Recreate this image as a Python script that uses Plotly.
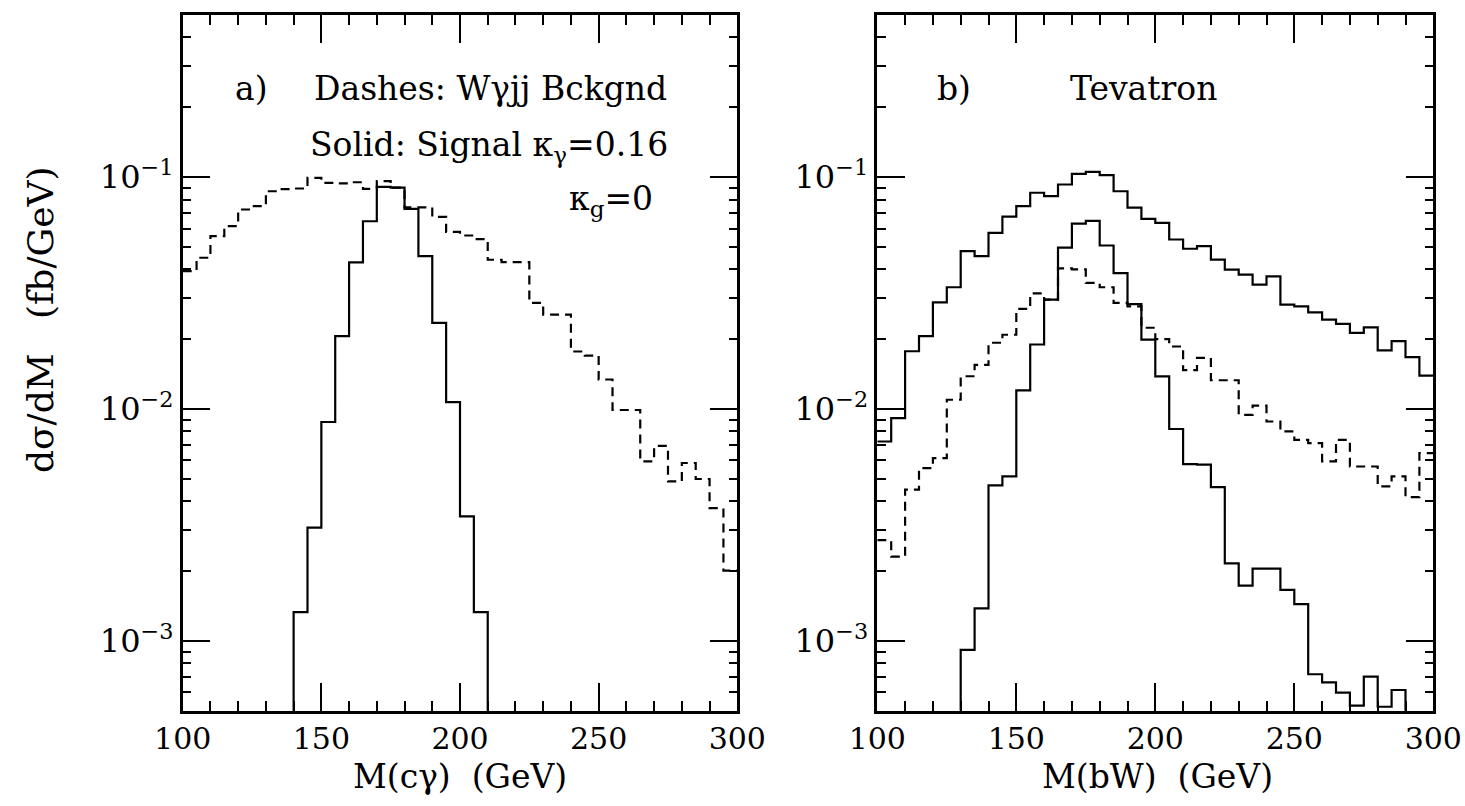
import plotly.graph_objects as go

# ---------------- data ----------------
BIN_LO = list(range(100, 300, 5))          # 40 bins of 5 GeV, 100..300
BIN_HI_END = 300
BELOW = 1e-5                                # below the visible axis range

# panel a) : M(c gamma)
left_bckgnd = [0.0393, 0.0449, 0.0556, 0.0614, 0.0725, 0.0749, 0.0869, 0.0888,
               0.0893, 0.0993, 0.0945, 0.0940, 0.0950, 0.0890, 0.0960, 0.0900,
               0.0740, 0.0740, 0.0674, 0.0580, 0.0560, 0.0540, 0.0440, 0.0430,
               0.0430, 0.0287, 0.0255, 0.0255, 0.0177, 0.0170, 0.0134, 0.0099,
               0.0099, 0.00594, 0.00693, 0.00487, 0.00585, 0.00499, 0.00374, 0.00201]
left_signal = [BELOW] * 8 + [0.00133, 0.00308, 0.00879, 0.0206, 0.0429, 0.0645,
               0.0908, 0.0900, 0.0730, 0.0456, 0.0235, 0.0107, 0.00344, 0.00133] + [BELOW] * 18

# panel b) : M(bW)
right_upper = [0.00724, 0.00914, 0.01774, 0.0206, 0.0288, 0.0335, 0.0479, 0.0456,
               0.0575, 0.0675, 0.0749, 0.0856, 0.0827, 0.0929, 0.1033, 0.1054,
               0.1019, 0.0869, 0.0738, 0.0661, 0.0635, 0.0538, 0.0491, 0.0504,
               0.0441, 0.0399, 0.0380, 0.0344, 0.0373, 0.0282, 0.0277, 0.0261,
               0.0243, 0.0233, 0.0213, 0.0225, 0.0179, 0.0196, 0.01675, 0.01393]
right_bckgnd = [0.00272, 0.00231, 0.00449, 0.00556, 0.00614, 0.01096, 0.01384, 0.0155,
                0.0193, 0.0209, 0.0270, 0.0315, 0.0296, 0.0404, 0.0400, 0.0350,
                0.0335, 0.0287, 0.0277, 0.0224, 0.0200, 0.0186, 0.0147, 0.0166,
                0.0133, 0.0133, 0.00944, 0.01033, 0.00883, 0.0080, 0.00736, 0.00712,
                0.00594, 0.00736, 0.00565, 0.00565, 0.00464, 0.00512, 0.00417, 0.00645]
right_signal = [BELOW] * 6 + [0.000914, 0.00138, 0.00468, 0.00512, 0.01202, 0.01897,
                0.0296, 0.0496, 0.0630, 0.0648, 0.0507, 0.0385, 0.0283, 0.0199,
                0.01383, 0.0082, 0.00579, 0.00575, 0.00460, 0.00216, 0.00173, 0.00205,
                0.00205, 0.00166, 0.00144, 0.000718, 0.000663, 0.000598, 0.000526,
                0.000701, 0.00052, 0.000614] + [BELOW] * 2

X_TICKS = [100, 150, 200, 250, 300]
Y_TICKS = [1e-3, 1e-2, 1e-1]
Y_TICK_TEXT = ["10<sup>\u22123</sup>", "10<sup>\u22122</sup>", "10<sup>\u22121</sup>"]

FONT = "DejaVu Serif"
INK = "black"
NB = "\u00a0"

W = 1465
H = 806


def fx(px):
    return px / W


def fy(py):
    return 1 - py / H


def step(vals):
    xs = BIN_LO + [BIN_HI_END]
    ys = list(vals) + [vals[-1]]
    return xs, ys


fig = go.Figure()


def add_hist(vals, xa, ya, dash):
    xs, ys = step(vals)
    fig.add_trace(go.Scatter(
        x=xs, y=ys, mode="lines", line_shape="hv", xaxis=xa, yaxis=ya,
        line=dict(color=INK, width=2.2, dash=dash), showlegend=False,
        hoverinfo="skip", cliponaxis=True))


DASH = "9px,6px"
add_hist(left_bckgnd, "x", "y", DASH)
add_hist(left_signal, "x", "y", "solid")
add_hist(right_upper, "x2", "y2", "solid")
add_hist(right_bckgnd, "x2", "y2", DASH)
add_hist(right_signal, "x2", "y2", "solid")

y_dom = [fy(710.7), fy(15)]
xdom_a = [fx(182.7), fx(737.3)]
xdom_b = [fx(877.3), fx(1433.3)]

xax = dict(range=[100, 300], tickvals=X_TICKS, ticks="inside", ticklen=28, tickwidth=2,
           tickcolor=INK, showline=True, linewidth=2.5, linecolor=INK, mirror="allticks",
           showgrid=False, zeroline=False, automargin=False, ticklabeloverflow="allow",
           tickfont=dict(family=FONT, size=30, color=INK),
           minor=dict(dtick=10, tick0=100, ticks="inside", ticklen=10, tickwidth=2,
                      tickcolor=INK, showgrid=False))
yax = dict(type="log", range=[-3.30103, -0.30103], tickvals=Y_TICKS, ticktext=Y_TICK_TEXT,
           ticks="inside", ticklen=28, tickwidth=2, tickcolor=INK, showline=True,
           linewidth=2.5, linecolor=INK, mirror="allticks", showgrid=False, zeroline=False,
           automargin=False, ticklabeloverflow="allow",
           tickfont=dict(family=FONT, size=32, color=INK),
           minor=dict(dtick="D1", ticks="inside", ticklen=9, tickwidth=2, tickcolor=INK,
                      showgrid=False))

fig.update_layout(
    width=W, height=H, autosize=False,
    margin=dict(l=0, r=0, t=0, b=0, pad=0, autoexpand=False),
    paper_bgcolor="white", plot_bgcolor="white",
    xaxis=dict(domain=xdom_a, anchor="y", **xax),
    yaxis=dict(domain=y_dom, anchor="x", **yax),
    xaxis2=dict(domain=xdom_b, anchor="y2", **xax),
    yaxis2=dict(domain=y_dom, anchor="x2", **yax),
)

tf = dict(family=FONT, size=33, color=INK)
ann = [
    dict(text="a)", x=233, y=88, xanchor="left"),
    dict(text="Dashes: W\u03b3jj Bckgnd", x=312, y=88, xanchor="left"),
    dict(text="Solid: Signal \u03ba<sub>\u03b3</sub>=0.16", x=308, y=146, xanchor="left"),
    dict(text="\u03ba<sub>g</sub>=0", x=567, y=200, xanchor="left"),
    dict(text="b)", x=935, y=88, xanchor="left"),
    dict(text="Tevatron", x=1068, y=88, xanchor="left"),
    dict(text="M(c\u03b3)" + NB * 2 + "(GeV)", x=460, y=776, xanchor="center"),
    dict(text="M(bW)" + NB * 2 + "(GeV)", x=1157, y=776, xanchor="center"),
]
for a in ann:
    fig.add_annotation(text=a["text"], x=fx(a["x"]), y=fy(a["y"]), xref="paper",
                       yref="paper", xanchor=a["xanchor"], yanchor="middle",
                       showarrow=False, font=tf)
fig.add_annotation(text="d\u03c3/dM" + NB * 3 + "(fb/GeV)", x=fx(40), y=fy(320),
                   xref="paper", yref="paper", textangle=-90, showarrow=False,
                   font=dict(family=FONT, size=36, color=INK),
                   xanchor="center", yanchor="middle")

fig.write_html("out.html",
               config={"displayModeBar": False, "displaylogo": False},
               post_script="document.body.style.margin='0';"
                           "document.body.style.overflow='hidden';")
